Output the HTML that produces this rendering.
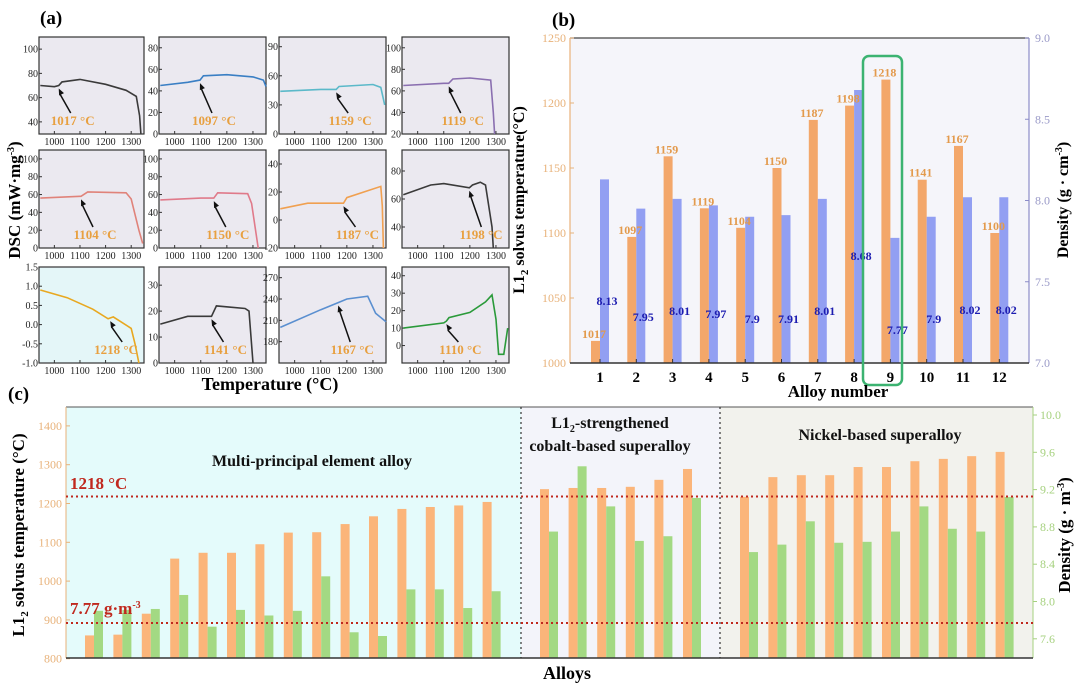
<!DOCTYPE html>
<html><head><meta charset="utf-8"><style>
html,body{margin:0;padding:0;background:#fff;}
svg{display:block;font-family:"Liberation Serif",serif;}
</style></head><body>
<svg id="fig" width="1080" height="686" viewBox="0 0 1080 686" xmlns="http://www.w3.org/2000/svg">
<g id="pa"></g>
<g id="pb"></g>
<g id="pc"></g>
</svg>
<script>
// ---------- Panel (b) data ----------
const bAlloys = [1,2,3,4,5,6,7,8,9,10,11,12];
const bSolvus = [1017,1097,1159,1119,1104,1150,1187,1198,1218,1141,1167,1100];
const bDensity = [8.13,7.95,8.01,7.97,7.9,7.91,8.01,8.68,7.77,7.9,8.02,8.02];
const bLeftTicks = [1000,1050,1100,1150,1200,1250];
const bRightTicks = ["7.0","7.5","8.0","8.5","9.0"];
const bDensLabelY = [305,321,315,318,323,323,315,260,334,323,314,314];

// ---------- Panel (c) data ----------
const cMpeaT = [860,862,916,1058,1073,1073,1095,1125,1126,1147,1167,1186,1191,1195,1204];
const cMpeaD = [7.90,7.91,7.92,8.07,7.73,7.91,7.85,7.90,8.27,7.67,7.63,8.13,8.13,7.93,8.11];
const cCoT = [1237,1240,1240,1243,1261,1289];
const cCoD = [8.75,9.45,9.02,8.65,8.70,9.11];
const cNiT = [1217,1268,1273,1273,1294,1294,1309,1315,1322,1333];
const cNiD = [8.53,8.61,8.86,8.63,8.64,8.75,9.02,8.78,8.75,9.12];
const cLeftTicks = [800,900,1000,1100,1200,1300,1400];
const cRightTicks = ["7.6","8.0","8.4","8.8","9.2","9.6","10.0"];
const cRefT = 1218;
const cRefD = 7.77;

// ---------- Panel (a) data ----------
const aXTicks = [1000,1100,1200,1300];
const aRanges = [[30,110],[0,90],[0,100],[20,110],[0,110],[0,110],[-20,50],[25,95],[-1,1.5],[0,37],[150,285],[-10,45]];
const aYTicks = [[40,60,80,100],[0,20,40,60,80],[0,30,60,90],[20,40,60,80,100],[0,20,40,60,80,100],[0,20,40,60,80,100],[-20,0,20,40],[40,60,80],[-1.0,-0.5,0.0,0.5,1.0,1.5],[0,10,20,30],[180,210,240,270],[0,10,20,30,40]];
const aCurves = [
 [[945,70],[1000,69],[1017,70],[1030,73],[1100,75],[1200,71],[1280,66],[1320,61],[1333,45],[1338,30]],
 [[945,45],[1050,48],[1097,50],[1110,54],[1200,55],[1300,53],[1340,50],[1350,44]],
 [[945,44],[1100,46],[1159,46],[1170,49],[1300,51],[1330,48],[1345,30]],
 [[945,65],[1100,67],[1119,67],[1135,71],[1200,72],[1280,70],[1290,40],[1295,20]],
 [[945,56],[1100,58],[1104,58],[1130,63],[1280,62],[1300,55],[1330,20],[1345,5]],
 [[945,54],[1100,56],[1150,56],[1165,62],[1280,61],[1295,50],[1320,0]],
 [[945,8],[1050,12],[1187,12],[1200,16],[1330,24],[1336,10],[1340,-20]],
 [[945,63],[1050,70],[1100,71],[1198,68],[1210,70],[1240,72],[1260,70],[1285,40],[1290,25]],
 [[945,0.9],[1050,0.7],[1150,0.4],[1210,0.15],[1230,0.2],[1300,-0.1],[1315,-0.5],[1330,-1]],
 [[945,15],[1050,18],[1141,18],[1160,22],[1270,21],[1285,20],[1300,0]],
 [[945,200],[1100,225],[1167,235],[1200,240],[1280,244],[1310,220],[1350,208]],
 [[945,10],[1100,13],[1110,14],[1120,16],[1200,19],[1260,25],[1285,29],[1300,15],[1310,-5],[1330,-5],[1345,10]]
];
const aTransT = [1017,1097,1159,1119,1104,1150,1187,1198,1218,1141,1167,1110];
const aColors = ["#3a3a3a","#3a7fc4","#5bb9c9","#8a6fb0","#e0837a","#e07a8a","#f0a050","#3a3a3a","#e8a820","#3a3a3a","#5a8fd0","#2a9a3a"];

const NS="http://www.w3.org/2000/svg";
function mk(parent,tag,attrs,text){const e=document.createElementNS(NS,tag);for(const k in attrs)e.setAttribute(k,attrs[k]);if(text!==undefined)e.textContent=text;parent.appendChild(e);return e;}

// ================= Panel (a) =================
(function(){
 const g=document.getElementById('pa');
 const cols=[[39,144],[159,266],[279,386],[402,509]];
 const rows=[[37,134],[150,248],[267,363]];
 let t=mk(g,'text',{x:40,y:24,'font-size':19,'font-weight':'bold'},'(a)');
 
 
 for(let k=0;k<12;k++){
  const r=Math.floor(k/4),c=k%4;
  const x0=cols[c][0],x1=cols[c][1],y0=rows[r][0],y1=rows[r][1];
  const [v0,v1]=aRanges[k];
  const sx=T=>x0+(T-940)/(1350-940)*(x1-x0);
  const sy=v=>y1-(v-v0)/(v1-v0)*(y1-y0);
  const sg=mk(g,'g',{});
  
  
  const bg=mk(sg,'rect',{x:x0,y:y0,width:x1-x0,height:y1-y0,fill:k===8?'#e4f6f8':'#ebe9f0',stroke:'#333','stroke-width':1.2});
  
  
  aXTicks.forEach(T=>{
   mk(sg,'line',{x1:sx(T),x2:sx(T),y1:y1,y2:y1-3,stroke:'#333'});
   const tl=mk(sg,'text',{x:sx(T),y:y1+11,'font-size':10,'text-anchor':'middle',fill:'#222'},T);
   
   
  });
  aYTicks[k].forEach(v=>{
   mk(sg,'line',{x1:x0,x2:x0+3,y1:sy(v),y2:sy(v),stroke:'#333'});
   const tl=mk(sg,'text',{x:x0-1,y:sy(v)+3.5,'font-size':10,'text-anchor':'end',fill:'#222'},(k===8?v.toFixed(1):v));
   
   
  });
  const pts=aCurves[k].map(p=>sx(p[0]).toFixed(1)+','+Math.max(y0,Math.min(y1,sy(p[1]))).toFixed(1)).join(' ');
  const pl=mk(sg,'polyline',{points:pts,fill:'none',stroke:aColors[k],'stroke-width':1.6});
  
  
  const T=aTransT[k];const cv=aCurves[k];let v=cv[0][1];
  for(let i=0;i<cv.length-1;i++){if(T>=cv[i][0]&&T<=cv[i+1][0]){const f=(T-cv[i][0])/(cv[i+1][0]-cv[i][0]);v=cv[i][1]+f*(cv[i+1][1]-cv[i][1]);break;}}
  const hx=sx(T),hy=sy(v)+3;
  const ly=y1-9;
  let lx=Math.min(Math.max(hx+14,x0+30),x1-28);
  const tx=hx+12,ty=ly-12;
  mk(sg,'line',{x1:tx,y1:ty,x2:hx+1.5,y2:hy+6,stroke:'#111','stroke-width':1.5});
  const ang=Math.atan2(hy-ty,hx-tx);
  const a1=ang+Math.PI-0.4,a2=ang+Math.PI+0.4;
  const ah=mk(sg,'polygon',{points:`${hx},${hy} ${hx+7*Math.cos(a1)},${hy+7*Math.sin(a1)} ${hx+7*Math.cos(a2)},${hy+7*Math.sin(a2)}`,fill:'#111'});
  
  
  const lb=mk(sg,'text',{x:lx,y:ly,'font-size':13,'font-weight':'bold','text-anchor':'middle',fill:'#e8a040'},T+' °C');
  
  
 }
 const xt=mk(g,'text',{x:270,y:390,'font-size':18,'font-weight':'bold','text-anchor':'middle'},'Temperature (°C)');
 
 
 const yt=mk(g,'text',{x:0,y:0,'font-size':17,'font-weight':'bold','text-anchor':'middle',transform:'translate(20,200) rotate(-90)'});
 
 
 yt.innerHTML='DSC (mW·mg<tspan dy="-6" font-size="10">-3</tspan><tspan dy="6">)</tspan>';
})();

// ================= Panel (b) =================
(function(){
 const g=document.getElementById('pb');
 const x0=570,x1=1029,y0=38,y1=363;
 const yL=v=>y1-(v-1000)/250*(y1-y0);
 const yR=d=>y1-(d-7)/2*(y1-y0);
 const xC=i=>600+i*36.3;
 const bg=mk(g,'rect',{x:x0,y:y0,width:x1-x0,height:y1-y0,fill:'#f5f5fa'});
 
 
 mk(g,'line',{x1:x0,x2:x1,y1:y0,y2:y0,stroke:'#444','stroke-width':1.2});
 mk(g,'line',{x1:x0,x2:x0,y1:y0,y2:y1,stroke:'#e8b27a','stroke-width':1.2});
 mk(g,'line',{x1:x1,x2:x1,y1:y0,y2:y1,stroke:'#8c8cc8','stroke-width':1.2});
 let t=mk(g,'text',{x:552,y:26,'font-size':19,'font-weight':'bold'},'(b)');
 
 
 bLeftTicks.forEach(v=>{
  mk(g,'line',{x1:x0,x2:x0+4,y1:yL(v),y2:yL(v),stroke:'#e8b27a'});
  const tl=mk(g,'text',{x:x0-4,y:yL(v)+4,'font-size':12,'text-anchor':'end',fill:'#e8b27a'},v);
  
  
 });
 bRightTicks.forEach(s=>{
  const d=parseFloat(s);
  mk(g,'line',{x1:x1,x2:x1-4,y1:yR(d),y2:yR(d),stroke:'#8c8cc8'});
  const tl=mk(g,'text',{x:x1+6,y:yR(d)+4,'font-size':12,fill:'#9a9ac8'},s);
  
  
 });
 bAlloys.forEach((a,i)=>{
  const c=xC(i);
  const ob=mk(g,'rect',{x:c-9,y:yL(bSolvus[i]),width:9,height:y1-yL(bSolvus[i]),fill:'#f3a76a'});
  
  
  const bb=mk(g,'rect',{x:c,y:yR(bDensity[i]),width:9,height:y1-yR(bDensity[i]),fill:'#929ff2'});
  
  
  const ol=mk(g,'text',{x:c-6,y:yL(bSolvus[i])-3,'font-size':12,'font-weight':'bold','text-anchor':'middle',fill:'#e39a4c'},bSolvus[i]);
  
  
  const dl=mk(g,'text',{x:c+7,y:bDensLabelY[i],'font-size':12,'font-weight':'bold','text-anchor':'middle',fill:'#1c1cb0'},bDensity[i]);
  
  
  mk(g,'line',{x1:c,x2:c,y1:y1,y2:y1-4,stroke:'#333'});
  const xl=mk(g,'text',{x:c,y:382,'font-size':15,'font-weight':'bold','text-anchor':'middle'},a);
  
  
 });
 mk(g,'line',{x1:x0,x2:x1,y1:y1,y2:y1,stroke:'#333','stroke-width':1.5});
 const hl=mk(g,'rect',{x:863,y:56,width:39,height:329,rx:6,fill:'none',stroke:'#3cb371','stroke-width':2.5});
 
 
 const xt=mk(g,'text',{x:838,y:397,'font-size':17,'font-weight':'bold','text-anchor':'middle'},'Alloy number');
 
 
 const yt=mk(g,'text',{x:0,y:0,'font-size':16,'font-weight':'bold','text-anchor':'middle',transform:'translate(524,200) rotate(-90)'});
 
 
 yt.innerHTML='L1<tspan dy="4" font-size="11">2</tspan><tspan dy="-4"> solvus temperature(°C)</tspan>';
 const rt=mk(g,'text',{x:0,y:0,'font-size':16,'font-weight':'bold','text-anchor':'middle',transform:'translate(1068,200) rotate(-90)'});
 
 
 rt.innerHTML='Density (g · cm<tspan dy="-6" font-size="10">-3</tspan><tspan dy="6">)</tspan>';
})();

// ================= Panel (c) =================
(function(){
 const g=document.getElementById('pc');
 const x0=66,x1=1033,y0=407,y1=658;
 const yT=v=>658.7-(v-800)*0.388;
 const yD=d=>415+(10-d)*93.25;
 const regions=[[x0,521,'#e4fbfb','mpea-region'],[521,720,'#f3f4fa','cobalt-region'],[720,x1,'#f2f2ed','nickel-region']];
 regions.forEach(r=>{
  const re=mk(g,'rect',{x:r[0],y:y0,width:r[1]-r[0],height:y1-y0,fill:r[2]});
  
  
 });
 mk(g,'line',{x1:x0,x2:x1,y1:y0,y2:y0,stroke:'#555','stroke-width':1});
 mk(g,'line',{x1:x0,x2:x0,y1:y0,y2:y1,stroke:'#e8b27a'});
 mk(g,'line',{x1:x1,x2:x1,y1:y0,y2:y1,stroke:'#a6d17f'});
 let t=mk(g,'text',{x:8,y:400,'font-size':19,'font-weight':'bold'},'(c)');
 
 
 cLeftTicks.forEach(v=>{
  mk(g,'line',{x1:x0,x2:x0+4,y1:yT(v),y2:yT(v),stroke:'#e8b27a'});
  const tl=mk(g,'text',{x:x0-4,y:yT(v)+4,'font-size':12,'text-anchor':'end',fill:'#e8b27a'},v);
  
  
 });
 cRightTicks.forEach(s=>{
  const d=parseFloat(s);
  mk(g,'line',{x1:x1,x2:x1+4,y1:yD(d),y2:yD(d),stroke:'#a6d17f'});
  const tl=mk(g,'text',{x:x1+7,y:yD(d)+4,'font-size':12,fill:'#a6d17f'},s);
  
  
 });
 function bars(T,D,start,step,tag){
  T.forEach((v,i)=>{
   const bx=start+i*step;
   const ob=mk(g,'rect',{x:bx,y:yT(v),width:9,height:y1-yT(v),fill:'#fbb57a'});
   
   
   const gb=mk(g,'rect',{x:bx+9,y:yD(D[i]),width:9,height:y1-yD(D[i]),fill:'#a3d983'});
   
   
  });
 }
 bars(cMpeaT,cMpeaD,85,28.4,'mpea');
 bars(cCoT,cCoD,540,28.6,'cobalt');
 bars(cNiT,cNiD,740,28.4,'nickel');
 [521,720].forEach(x=>mk(g,'line',{x1:x,x2:x,y1:y0,y2:y1,stroke:'#333','stroke-width':1.2,'stroke-dasharray':'2,3'}));
 const r1=mk(g,'line',{x1:x0,x2:x1,y1:yT(cRefT),y2:yT(cRefT),stroke:'#c0281e','stroke-width':2,'stroke-dasharray':'2,3'});
 
 
 const r2=mk(g,'line',{x1:x0,x2:x1,y1:yD(cRefD),y2:yD(cRefD),stroke:'#c0281e','stroke-width':2,'stroke-dasharray':'2,3'});
 
 
 mk(g,'line',{x1:x0,x2:x1,y1:y1,y2:y1,stroke:'#333','stroke-width':1.5});
 const l1=mk(g,'text',{x:70,y:489,'font-size':17,'font-weight':'bold',fill:'#c0281e'},'1218 °C');
 
 
 const l2=mk(g,'text',{x:70,y:614,'font-size':17,'font-weight':'bold',fill:'#c0281e'});
 
 
 l2.innerHTML='7.77 g·m<tspan dy="-6" font-size="10">-3</tspan>';
 const rt1=mk(g,'text',{x:312,y:466,'font-size':16,'font-weight':'bold','text-anchor':'middle',fill:'#111'},'Multi-principal element alloy');
 
 
 const rt2=mk(g,'text',{x:610,y:428,'font-size':16,'font-weight':'bold','text-anchor':'middle',fill:'#111'});
 
 
 rt2.innerHTML='L1<tspan dy="4" font-size="10">2</tspan><tspan dy="-4">-strengthened</tspan>';
 const rt2b=mk(g,'text',{x:610,y:451,'font-size':16,'font-weight':'bold','text-anchor':'middle',fill:'#111'},'cobalt-based superalloy');
 
 
 const rt3=mk(g,'text',{x:880,y:440,'font-size':16,'font-weight':'bold','text-anchor':'middle',fill:'#111'},'Nickel-based superalloy');
 
 
 const xt=mk(g,'text',{x:567,y:679,'font-size':18,'font-weight':'bold','text-anchor':'middle'},'Alloys');
 
 
 const yt=mk(g,'text',{x:0,y:0,'font-size':17,'font-weight':'bold','text-anchor':'middle',transform:'translate(24,535) rotate(-90)'});
 
 
 yt.innerHTML='L1<tspan dy="4" font-size="11">2</tspan><tspan dy="-4"> solvus temperature (°C)</tspan>';
 const ryt=mk(g,'text',{x:0,y:0,'font-size':17,'font-weight':'bold','text-anchor':'middle',transform:'translate(1070,535) rotate(-90)'});
 
 
 ryt.innerHTML='Density (g · m<tspan dy="-6" font-size="10">-3</tspan><tspan dy="6">)</tspan>';
})();
</script>
</body></html>
